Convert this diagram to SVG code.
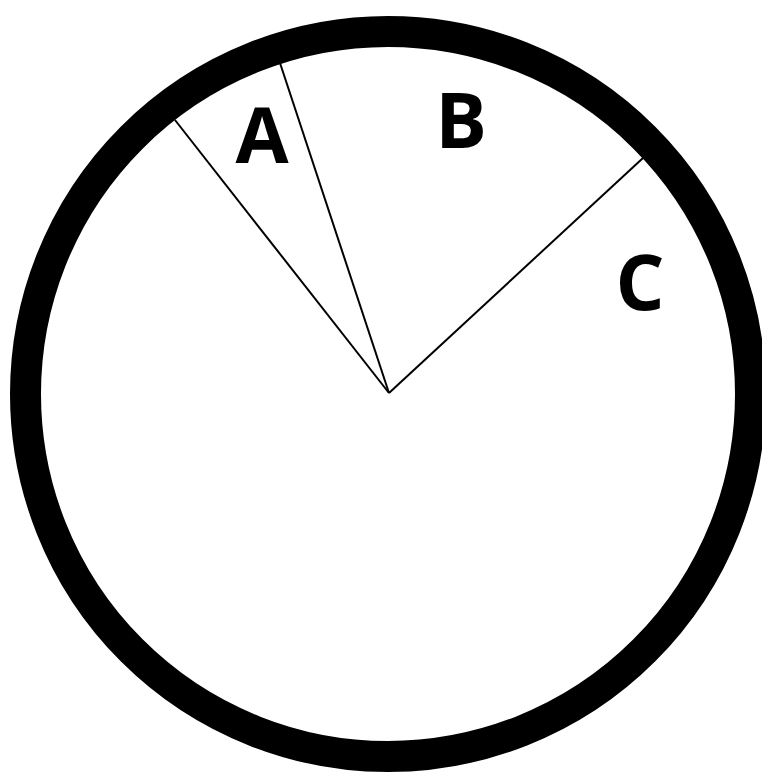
<svg xmlns="http://www.w3.org/2000/svg" width="762" height="772" viewBox="0 0 762 772">
<style>
.lbl{font-family:"Open Sans","Liberation Sans",sans-serif;font-weight:bold;font-size:77px;fill:#000;text-anchor:middle}
.ln{stroke:#000;stroke-width:2;fill:none}
</style>
<rect width="762" height="772" fill="#fff"/>
<g id="ring"><circle cx="388" cy="394" r="362.5" fill="none" stroke="#000" stroke-width="31"/></g>
<g id="connectors">
<line class="ln" x1="389" y1="393" x2="175" y2="120"/>
<line class="ln" x1="389" y1="393" x2="280" y2="63"/>
<line class="ln" x1="389" y1="393" x2="643" y2="158"/>
</g>
<g id="A"><text class="lbl" x="262" y="163">A</text></g>
<g id="B"><text class="lbl" x="461" y="148">B</text></g>
<g id="C"><text class="lbl" x="640" y="310">C</text></g>
</svg>
